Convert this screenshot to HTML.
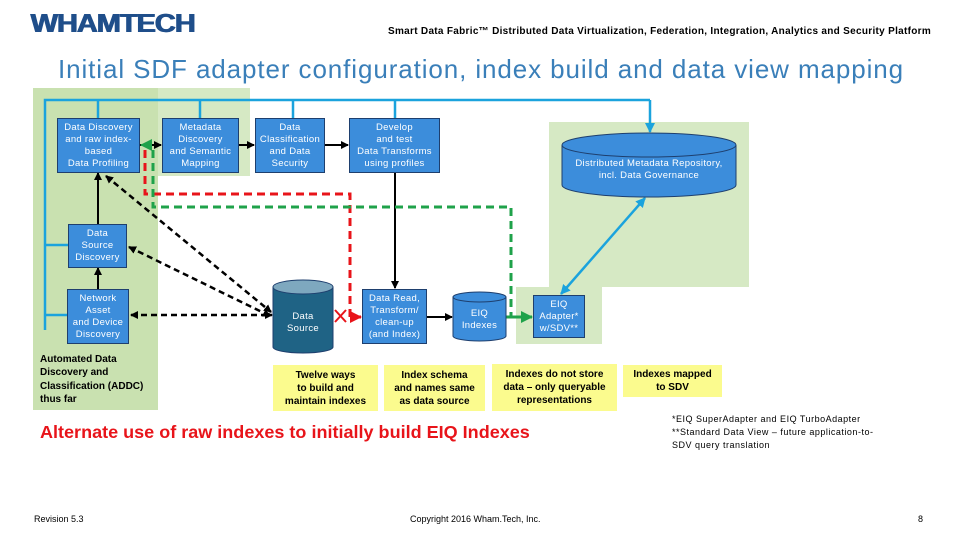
<!DOCTYPE html>
<html><head><meta charset="utf-8"><style>
body{margin:0;background:#fff;}
#c{position:relative;width:960px;height:540px;overflow:hidden;font-family:"Liberation Sans",sans-serif;}
.a{position:absolute;}
.bx{position:absolute;background:#3c8ddb;border:1px solid #1e3f6e;color:#fff;font-size:9.5px;line-height:12px;text-align:center;display:flex;align-items:center;justify-content:center;box-sizing:border-box;letter-spacing:0.3px;}
.y{position:absolute;background:#fbfb8e;font-size:10px;font-weight:bold;line-height:13px;text-align:center;display:flex;align-items:center;justify-content:center;box-sizing:border-box;}
.t{position:absolute;color:#fff;font-size:9.5px;line-height:12px;text-align:center;letter-spacing:0.3px;}
</style></head><body><div id="c">
<div class="a" style="left:30px;top:8px;font-weight:900;font-size:26px;color:#1f4e8a;letter-spacing:-1px;transform:scaleX(1.12);transform-origin:left;text-shadow:1px 0 0 #1f4e8a;">WHAMTECH</div>
<div class="a" style="left:388px;top:26px;font-size:10px;font-weight:bold;white-space:nowrap;letter-spacing:0.3px;">Smart Data Fabric™ Distributed Data Virtualization, Federation, Integration, Analytics and Security Platform</div>
<div class="a" style="left:58px;top:54px;font-size:26px;color:#3a7fb9;white-space:nowrap;letter-spacing:0.9px;">Initial SDF adapter configuration, index build and data view mapping</div>

<div class="a" style="left:33px;top:88px;width:217px;height:88px;background:#d6e9c4;"></div>
<div class="a" style="left:33px;top:88px;width:125px;height:322px;background:#c9e1b0;"></div>
<div class="a" style="left:549px;top:122px;width:200px;height:165px;background:#d6e9c4;"></div>
<div class="a" style="left:516px;top:287px;width:86px;height:57px;background:#d6e9c4;"></div>

<svg class="a" style="left:0;top:0" width="960" height="540">
<defs>
<marker id="k" markerWidth="8" markerHeight="8" refX="7" refY="4" orient="auto" markerUnits="userSpaceOnUse"><path d="M0,0L8,4L0,8z" fill="#000"/></marker>
<marker id="ks" markerWidth="8" markerHeight="8" refX="1" refY="4" orient="auto" markerUnits="userSpaceOnUse"><path d="M8,0L0,4L8,8z" fill="#000"/></marker>
<marker id="b" markerWidth="10" markerHeight="10" refX="9" refY="5" orient="auto" markerUnits="userSpaceOnUse"><path d="M0,0L10,5L0,10z" fill="#1ba3dd"/></marker>
<marker id="bs" markerWidth="10" markerHeight="10" refX="1" refY="5" orient="auto" markerUnits="userSpaceOnUse"><path d="M10,0L0,5L10,10z" fill="#1ba3dd"/></marker>
<marker id="r" markerWidth="12" markerHeight="12" refX="11" refY="6" orient="auto" markerUnits="userSpaceOnUse"><path d="M0,0L12,6L0,12z" fill="#e8141a"/></marker>
<marker id="g" markerWidth="12" markerHeight="12" refX="11" refY="6" orient="auto" markerUnits="userSpaceOnUse"><path d="M0,0L12,6L0,12z" fill="#1fa24a"/></marker>
</defs>
<g stroke="#1ba3dd" stroke-width="2.5" fill="none">
<path d="M45,330V100H650"/>
<path d="M98,100V118M200,100V118M293,100V118M395,100V118"/>
<path d="M45,245H68M45,315H67"/>
<path d="M650,100V132" marker-end="url(#b)"/>
<path d="M645,198L561,294" marker-end="url(#b)" marker-start="url(#bs)"/>
</g>
<g stroke="#000" stroke-width="2" fill="none">
<path d="M140,145H161" marker-end="url(#k)"/>
<path d="M239,145H254" marker-end="url(#k)"/>
<path d="M325,145H348" marker-end="url(#k)"/>
<path d="M395,172V288" marker-end="url(#k)"/>
<path d="M427,317H452" marker-end="url(#k)"/>
<path d="M98,289V268" marker-end="url(#k)"/>
<path d="M98,224V173" marker-end="url(#k)"/>
<g stroke-dasharray="6,4" stroke-width="2.5">
<path d="M106,176L271,312" marker-end="url(#k)" marker-start="url(#ks)"/>
<path d="M129,247L270,316" marker-end="url(#k)" marker-start="url(#ks)"/>
<path d="M131,315H272" marker-end="url(#k)" marker-start="url(#ks)"/>
</g>
</g>
<g stroke="#e8141a" stroke-width="3" fill="none" stroke-dasharray="8,5">
<path d="M145,150V194H350V317"/>
</g>
<path d="M350,317H361" stroke="#e8141a" stroke-width="3" marker-end="url(#r)"/>
<path d="M335,310L346,322M346,310L335,322" stroke="#e8141a" stroke-width="2"/>
<g stroke="#1fa24a" stroke-width="3" fill="none" stroke-dasharray="8,5">
<path d="M153,150V207H511V317"/>
</g>
<path d="M506,317H532" stroke="#1fa24a" stroke-width="3" marker-end="url(#g)"/>
<path d="M152,145H141" stroke="#1fa24a" stroke-width="2" marker-end="url(#g)"/>
<g stroke="#1e3f6e" stroke-width="1">
<path d="M273,287V347A30,6 0 0 0 333,347V287" fill="#1f6385"/>
<ellipse cx="303" cy="287" rx="30" ry="7" fill="#7ea8bf"/>
<path d="M453,297V336A26.5,5 0 0 0 506,336V297" fill="#3c8ddb"/>
<ellipse cx="479.5" cy="297" rx="26.5" ry="5" fill="#3c8ddb"/>
<path d="M562,145V185A87,12 0 0 0 736,185V145" fill="#3c8ddb"/>
<ellipse cx="649" cy="145" rx="87" ry="12" fill="#3c8ddb"/>
</g>
</svg>

<div class="bx" style="left:57px;top:118px;width:83px;height:55px;">Data Discovery<br>and raw index-<br>based<br>Data Profiling</div>
<div class="bx" style="left:162px;top:118px;width:77px;height:55px;">Metadata<br>Discovery<br>and Semantic<br>Mapping</div>
<div class="bx" style="left:255px;top:118px;width:70px;height:55px;">Data<br>Classification<br>and Data<br>Security</div>
<div class="bx" style="left:349px;top:118px;width:91px;height:55px;">Develop<br>and test<br>Data Transforms<br>using profiles</div>
<div class="bx" style="left:68px;top:224px;width:59px;height:44px;">Data<br>Source<br>Discovery</div>
<div class="bx" style="left:67px;top:289px;width:62px;height:55px;">Network<br>Asset<br>and Device<br>Discovery</div>
<div class="bx" style="left:362px;top:289px;width:65px;height:55px;">Data Read,<br>Transform/<br>clean-up<br>(and Index)</div>
<div class="bx" style="left:533px;top:295px;width:52px;height:43px;">EIQ<br>Adapter*<br>w/SDV**</div>
<div class="t" style="left:273px;top:311px;width:60px;">Data<br>Source</div>
<div class="t" style="left:453px;top:308px;width:53px;">EIQ<br>Indexes</div>
<div class="t" style="left:562px;top:158px;width:174px;">Distributed Metadata Repository,<br>incl. Data Governance</div>

<div class="a" style="left:40px;top:353px;font-size:10px;font-weight:bold;line-height:13.3px;">Automated Data<br>Discovery and<br>Classification (ADDC)<br>thus far</div>
<div class="y" style="left:273px;top:365px;width:105px;height:46px;">Twelve ways<br>to build and<br>maintain indexes</div>
<div class="y" style="left:384px;top:365px;width:101px;height:46px;">Index schema<br>and names same<br>as data source</div>
<div class="y" style="left:492px;top:364px;width:125px;height:47px;">Indexes do not store<br>data – only queryable<br>representations</div>
<div class="y" style="left:623px;top:365px;width:99px;height:32px;">Indexes mapped<br>to SDV</div>

<div class="a" style="left:40px;top:422px;font-size:17.5px;font-weight:bold;color:#e8141a;white-space:nowrap;transform:scaleX(1.03);transform-origin:left;">Alternate use of raw indexes to initially build EIQ Indexes</div>
<div class="a" style="left:672px;top:413px;font-size:9px;line-height:13px;letter-spacing:0.5px;">*EIQ SuperAdapter and EIQ TurboAdapter<br>**Standard Data View – future application-to-<br>SDV query translation</div>

<div class="a" style="left:34px;top:514px;font-size:9px;">Revision 5.3</div>
<div class="a" style="left:410px;top:514px;font-size:9px;">Copyright 2016 Wham.Tech, Inc.</div>
<div class="a" style="left:918px;top:514px;font-size:9px;">8</div>
</div></body></html>
